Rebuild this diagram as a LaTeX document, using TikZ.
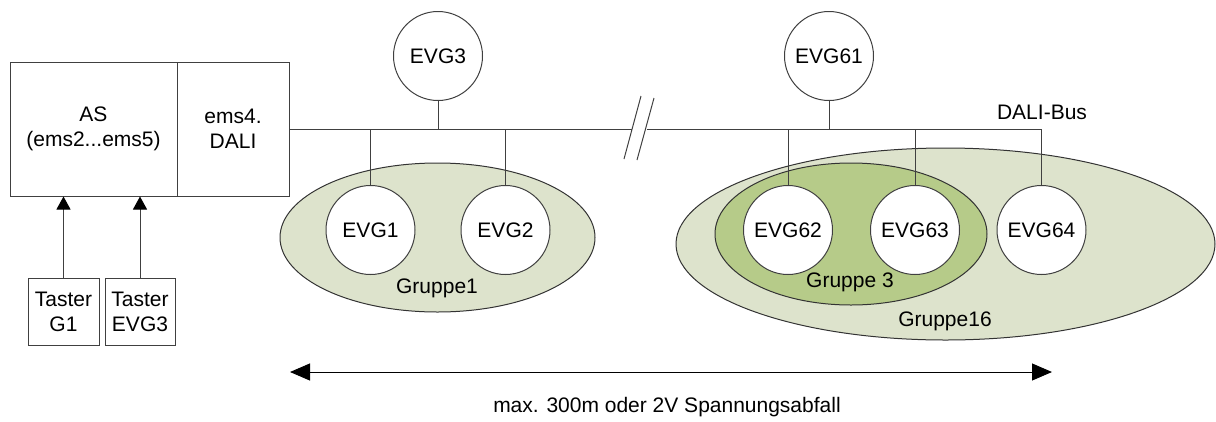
\documentclass[tikz,border=0pt]{standalone}
\usepackage{fontspec}
\setmainfont{Liberation Sans}
\usetikzlibrary{shapes.geometric,arrows.meta}
\definecolor{lightgrp}{RGB}{221,227,204}
\definecolor{darkgrp}{RGB}{182,203,137}
\definecolor{linec}{RGB}{64,64,64}
\tikzset{
  every node/.style={font=\fontsize{21}{25}\selectfont, text=black},
  blk/.style={draw=linec, line width=1pt, rectangle, inner sep=0pt, align=center},
  evg/.style={draw=linec, line width=1pt, fill=white, circle, minimum size=89pt, inner sep=0pt},
  grp/.style={draw=black!80, line width=1pt, ellipse, inner sep=0pt},
  wire/.style={draw=linec, line width=1pt},
  feed/.style={wire, -{Triangle[width=14pt,length=13pt,color=black]}},
  span/.style={draw=black, line width=1pt, {Triangle[width=17pt,length=20pt]}-{Triangle[width=17pt,length=20pt]}}
}
\begin{document}
\begin{tikzpicture}[x=1pt,y=-1pt]
\useasboundingbox (0,0) rectangle (1216,421);
% groups
\node[grp, fill=lightgrp, minimum width=539pt, minimum height=192pt] (g16) at (945.5,244) {};
\node[grp, fill=darkgrp, minimum width=272pt, minimum height=142pt] (g3) at (851,234) {};
\node[grp, fill=lightgrp, minimum width=315pt, minimum height=149pt] (g1) at (437.5,237.5) {};
\node (g1l) at (437,288) {Gruppe1};
\node (g3l) at (850,282) {Gruppe 3};
\node (g16l) at (945,321) {Gruppe16};
% controller
\node[blk, minimum width=167pt, minimum height=134pt] (as) at (93.5,129) {AS\\(ems2...ems5)};
\node[blk, minimum width=112pt, minimum height=134pt] (dali) at (233,129) {ems4.\\DALI};
% taster
\node[blk, minimum width=71pt, minimum height=67pt] (t1) at (63.5,311.5) {Taster\\G1};
\node[blk, minimum width=70pt, minimum height=67pt] (t2) at (140,311.5) {Taster\\EVG3};
\draw[feed] (t1.north) -- (t1.north |- as.south);
\draw[feed] (t2.north) -- (t2.north |- as.south);
% EVGs
\node[evg] (evg3) at (438,56) {EVG3};
\node[evg] (evg61) at (829,56) {EVG61};
\node[evg] (evg1) at (370.5,230) {EVG1};
\node[evg] (evg2) at (505.5,230) {EVG2};
\node[evg] (evg62) at (788,230) {EVG62};
\node[evg] (evg63) at (915,230) {EVG63};
\node[evg] (evg64) at (1041.5,230) {EVG64};
% bus
\coordinate (busL) at (632,129);
\coordinate (busR) at (647,129);
\draw[wire] (dali.east) -- (busL);
\draw[wire] (busR) -- (busR -| evg64.north) -- (evg64.north);
\draw[wire] (624,159) -- (641,96);
\draw[wire] (637,160) -- (654,98);
\draw[wire] (evg3.south) -- (evg3.south |- dali.east);
\draw[wire] (evg1.north) -- (evg1.north |- dali.east);
\draw[wire] (evg2.north) -- (evg2.north |- dali.east);
\draw[wire] (evg61.south) -- (evg61.south |- busR);
\draw[wire] (evg62.north) -- (evg62.north |- busR);
\draw[wire] (evg63.north) -- (evg63.north |- busR);
\node (buslabel) at (1042,112) {DALI-Bus};
% span
\coordinate (spanL) at (290,372);
\coordinate (spanR) at (1052,372);
\draw[span] (spanL) -- (spanR);
\node (spanlabel) at (667,407) {max. 300m oder 2V Spannungsabfall};
\end{tikzpicture}
\end{document}
